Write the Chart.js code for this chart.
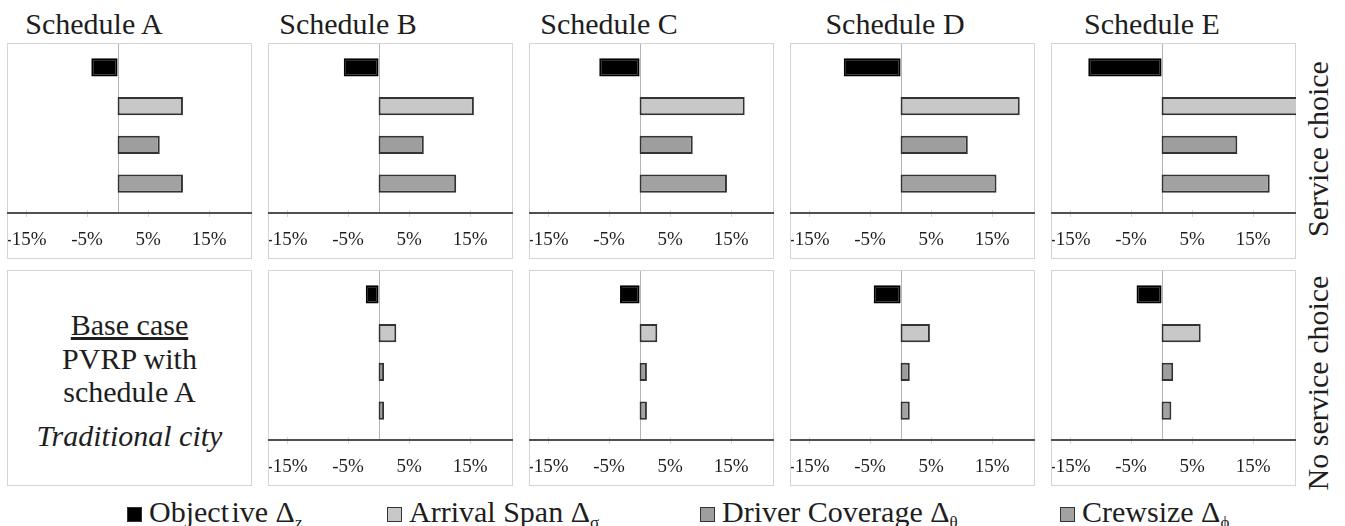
<!DOCTYPE html>
<html>
<head>
<meta charset="utf-8">
<script src="https://cdn.jsdelivr.net/npm/chart.js@4.4.1/dist/chart.umd.min.js"></script>
<style>
  body { margin: 0; background: #fff; }
  * { font-family: "Liberation Serif", "Times New Roman", Tinos, serif; }
  #page { position: relative; width: 1345px; height: 526px; overflow: hidden; color: #1e1e1e; }
  .panel { position: absolute; width: 245px; height: 216px; }
  .title { position: absolute; top: 9px; font-size: 30px; line-height: 30px; white-space: nowrap; transform: translateX(-50%); }
  .side { position: absolute; font-size: 30px; line-height: 30px; white-space: nowrap; transform: translate(-50%, -50%) rotate(-90deg); }
  .base { position: absolute; box-sizing: border-box; border: 1px solid #d4d4d4; }
  .base div { position: absolute; left: 0; right: 0; text-align: center; font-size: 30px; line-height: 30px; white-space: nowrap; }
  .legend { position: absolute; top: 497px; font-size: 30px; line-height: 30px; white-space: nowrap; }
  .legend i { position: absolute; left: 0; top: 10px; width: 13px; height: 13px; border: 1px solid #333; }
  .legend span { position: absolute; left: 22px; top: 0; }
  sub { font-size: 17px; vertical-align: -6px; line-height: 0; }
</style>
</head>
<body>
<div id="page"></div>
<script>
// categories (bar order, top to bottom)
const categories = ["Objective", "Arrival Span", "Driver Coverage", "Crewsize"];
const subscripts = ["z", "σ", "θ", "ϕ"];
const schedules = ["Schedule A", "Schedule B", "Schedule C", "Schedule D", "Schedule E"];
const tickValues = [-15, -5, 5, 15];

// service choice (top row), % change
const scA = [-4.3, 10.7, 6.9, 10.7];
const scB = [-5.7, 15.6, 7.4, 12.7];
const scC = [-6.6, 17.2, 8.7, 14.3];
const scD = [-9.3, 19.5, 11.0, 15.7];
const scE = [-12.0, 23.0, 12.4, 17.7];

// no service choice (bottom row), % change
const nsB = [-2.1, 2.9, 0.9, 0.9];
const nsC = [-3.2, 2.9, 1.2, 1.2];
const nsD = [-4.4, 4.8, 1.5, 1.5];
const nsE = [-4.1, 6.4, 1.9, 1.6];

const fills = ["#000000", "#c8c8c8", "#9e9e9e", "#a2a2a2"];
const borders = ["#000000", "#333333", "#333333", "#333333"];

const serif = '"Liberation Serif", "Times New Roman", serif';
Chart.defaults.font.family = serif;

const page = document.getElementById("page");
const panelLeft = [7, 268, 529, 790, 1051];
const titleCenter = [94, 348, 609, 895, 1152];
const rowTop = [43, 270];
const W = 245, H = 216;

const panelFrame = {
  id: "panelFrame",
  beforeDatasetsDraw(chart) {
    const { ctx, width, height, chartArea, scales } = chart;
    const axisY = chartArea.bottom + 10;
    ctx.save();
    ctx.strokeStyle = "#d4d4d4";
    ctx.lineWidth = 1;
    ctx.strokeRect(0.5, 0.5, width - 1, height - 1);
    const zx = Math.round(scales.x.getPixelForValue(0)) + 0.5;
    ctx.strokeStyle = "#b4b4b4";
    ctx.beginPath();
    ctx.moveTo(zx, 1);
    ctx.lineTo(zx, axisY);
    ctx.stroke();
    ctx.restore();
  },
  afterDatasetsDraw(chart) {
    const { ctx, width, chartArea, scales } = chart;
    const axisY = chartArea.bottom + 10;
    ctx.save();
    ctx.strokeStyle = "#d8d8d8";
    ctx.lineWidth = 1;
    tickValues.forEach((v) => {
      const px = Math.round(scales.x.getPixelForValue(v)) + 0.5;
      ctx.beginPath();
      ctx.moveTo(px, axisY - 3);
      ctx.lineTo(px, axisY + 4);
      ctx.stroke();
    });
    ctx.strokeStyle = "#505050";
    ctx.lineWidth = 2;
    ctx.beginPath();
    ctx.moveTo(0, axisY);
    ctx.lineTo(width, axisY);
    ctx.stroke();
    ctx.restore();
  },
};

function makePanel(values, left, top) {
  const canvas = document.createElement("canvas");
  canvas.className = "panel";
  canvas.width = W;
  canvas.height = H;
  canvas.style.left = left + "px";
  canvas.style.top = top + "px";
  page.appendChild(canvas);

  new Chart(canvas, {
    type: "bar",
    data: {
      labels: categories,
      datasets: [
        {
          data: values,
          backgroundColor: fills,
          borderColor: borders,
          borderWidth: 2,
          borderSkipped: false,
          barPercentage: 0.47,
          categoryPercentage: 1,
        },
      ],
    },
    options: {
      indexAxis: "y",
      responsive: false,
      animation: false,
      devicePixelRatio: 1,
      layout: { padding: { top: 5, left: 0, right: 0, bottom: 0 } },
      plugins: { legend: { display: false }, tooltip: { enabled: false } },
      scales: {
        x: {
          type: "linear",
          min: -18.1,
          max: 22,
          grid: { display: false, drawTicks: false },
          border: { display: false },
          afterBuildTicks: (scale) => {
            scale.ticks = tickValues.map((v) => ({ value: v }));
          },
          afterFit: (scale) => {
            scale.height = 56;
            scale.paddingLeft = 0;
            scale.paddingRight = 0;
          },
          ticks: {
            padding: 26,
            color: "#1e1e1e",
            maxRotation: 0,
            font: { family: serif, size: 19 },
            callback: (v) => v + "%",
          },
        },
        y: { display: false },
      },
    },
    plugins: [panelFrame],
  });
}

// titles
schedules.forEach((s, i) => {
  const t = document.createElement("div");
  t.className = "title";
  t.textContent = s;
  t.style.left = titleCenter[i] + "px";
  page.appendChild(t);
});

// top row: service choice
[scA, scB, scC, scD, scE].forEach((vals, i) => makePanel(vals, panelLeft[i], rowTop[0]));

// bottom row: base case box + no service choice
const base = document.createElement("div");
base.className = "base";
base.style.left = panelLeft[0] + "px";
base.style.top = rowTop[1] + "px";
base.style.width = W + "px";
base.style.height = H + "px";
base.innerHTML =
  '<div style="top:39px"><u>Base case</u></div>' +
  '<div style="top:73px">PVRP with</div>' +
  '<div style="top:106px">schedule A</div>' +
  '<div style="top:150px;font-style:italic">Traditional city</div>';
page.appendChild(base);
[nsB, nsC, nsD, nsE].forEach((vals, i) => makePanel(vals, panelLeft[i + 1], rowTop[1]));

// side labels
[["Service choice", 149], ["No service choice", 383]].forEach(([txt, cy]) => {
  const d = document.createElement("div");
  d.className = "side";
  d.textContent = txt;
  d.style.left = "1318px";
  d.style.top = cy + "px";
  page.appendChild(d);
});

// legend
const legendLeft = [127, 387, 700, 1060];
categories.forEach((c, i) => {
  const d = document.createElement("div");
  d.className = "legend";
  d.style.left = legendLeft[i] + "px";
  d.innerHTML =
    '<i style="background:' + fills[i] + '"></i><span>' +
    (i === 0 ? "Object\u200Aive" : c) + " Δ<sub>" + subscripts[i] + "</sub></span>";
  page.appendChild(d);
});
</script>
</body>
</html>
